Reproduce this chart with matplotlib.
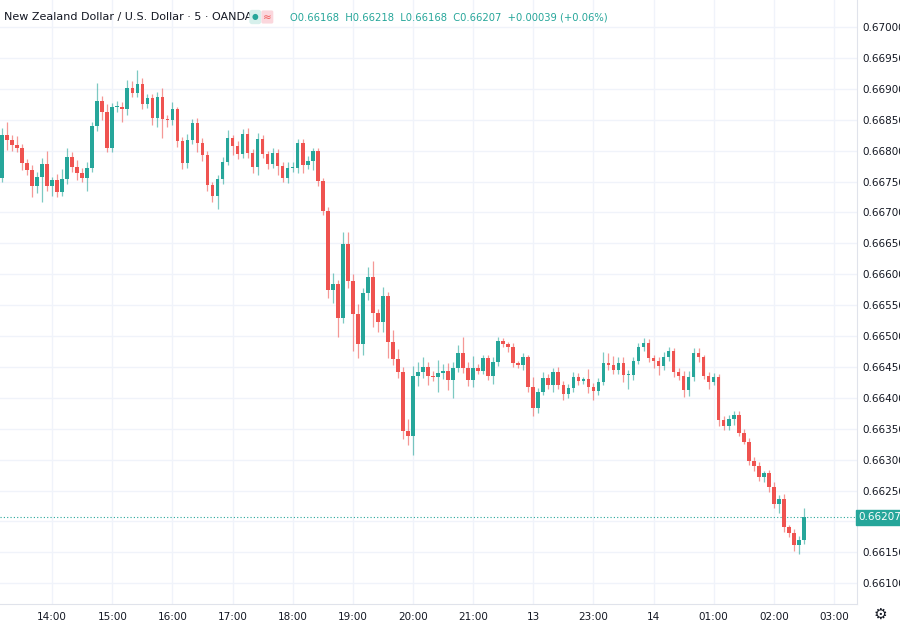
import matplotlib
matplotlib.use("Agg")
import matplotlib.pyplot as plt
from matplotlib.patches import Rectangle

opens0 = 0.66755
closes = [0.66825,0.66817,0.66809,0.66805,0.66780,0.66768,0.66743,0.66757,0.66778,0.66743,
0.66752,0.66733,0.66754,0.66790,0.66773,0.66764,0.66756,0.66772,0.66840,0.66880,
0.66862,0.66804,0.66871,0.66871,0.66867,0.66901,0.66893,0.66908,0.66875,0.66885,
0.66853,0.66887,0.66851,0.66849,0.66867,0.66816,0.66780,0.66817,0.66845,0.66812,
0.66793,0.66744,0.66727,0.66754,0.66782,0.66820,0.66807,0.66794,0.66827,0.66796,
0.66774,0.66819,0.66794,0.66778,0.66796,0.66775,0.66756,0.66772,0.66772,0.66812,
0.66777,0.66783,0.66799,0.66751,0.66702,0.66574,0.66584,0.66529,0.66649,0.66589,
0.66536,0.66487,0.66570,0.66596,0.66537,0.66523,0.66565,0.66490,0.66463,0.66442,
0.66346,0.66338,0.66435,0.66442,0.66450,0.66435,0.66433,0.66440,0.66443,0.66429,
0.66448,0.66473,0.66448,0.66429,0.66448,0.66444,0.66464,0.66435,0.66458,0.66492,
0.66487,0.66482,0.66456,0.66453,0.66466,0.66418,0.66384,0.66410,0.66432,0.66421,
0.66442,0.66421,0.66406,0.66416,0.66434,0.66427,0.66430,0.66418,0.66411,0.66426,
0.66456,0.66453,0.66445,0.66456,0.66437,0.66437,0.66460,0.66482,0.66489,0.66464,
0.66460,0.66451,0.66466,0.66476,0.66442,0.66435,0.66413,0.66434,0.66473,0.66466,
0.66435,0.66426,0.66434,0.66364,0.66354,0.66366,0.66372,0.66343,0.66329,0.66298,
0.66290,0.66272,0.66278,0.66256,0.66228,0.66236,0.66191,0.66181,0.66162,0.66170,
0.66207]
# wick lengths in 1e-5 units
upper = [12,22,8,15,6,6,8,8,10,22,6,10,16,14,8,12,8,10,6,30,
8,14,6,10,8,14,12,22,10,6,6,8,14,6,12,4,6,10,6,8,
8,6,6,6,8,14,6,8,8,10,6,10,6,6,8,6,6,10,10,6,
6,8,6,6,4,6,18,6,20,20,12,16,8,16,26,6,14,6,20,16,
8,20,16,16,16,8,8,22,12,14,10,12,26,10,20,6,6,6,8,6,
4,4,6,4,6,4,16,6,10,6,6,8,6,6,8,6,4,16,6,6,
18,16,14,10,10,8,6,6,8,6,6,6,8,6,4,6,8,10,8,8,
4,6,6,4,6,6,6,6,6,6,6,6,4,6,8,6,8,4,6,6,
14]
lower = [6,16,10,8,12,8,18,12,40,8,16,8,6,8,8,12,6,22,6,8,
12,6,6,8,20,10,6,6,8,6,12,14,30,10,8,10,10,8,6,14,
10,10,10,22,8,6,14,8,6,8,10,14,6,8,6,14,6,8,6,8,
14,6,14,8,6,12,20,30,8,12,60,22,18,12,22,16,16,26,10,10,
12,14,30,16,10,14,6,24,10,16,30,6,8,10,12,6,6,6,12,6,
4,8,6,4,8,8,14,8,6,6,12,6,10,6,6,6,4,10,14,6,
6,8,6,6,12,22,8,6,6,6,12,14,6,6,8,6,12,10,6,8,
4,12,6,10,6,6,10,4,4,6,8,6,8,8,6,14,8,6,10,14,
6]
time_labels = ["14:00","15:00","16:00","17:00","18:00","19:00","20:00","21:00",
               "13","23:00","14","01:00","02:00","03:00"]
price_ticks = [0.66100 + 0.0005*k for k in range(19)]

UP = "#26a69a"; DN = "#ef5350"
fig = plt.figure(figsize=(9, 6.23), dpi=100)
ax = fig.add_axes([0, 1-604/623, 857/900, 604/623])
n = len(closes)
opens = [opens0] + closes[:-1]
for i in range(n):
    o, c = opens[i], closes[i]
    col = UP if c >= o else DN
    hi = max(o, c) + upper[i]*1e-5
    lo = min(o, c) - lower[i]*1e-5
    ax.vlines(i, lo, hi, color=col, lw=0.9, alpha=0.6, zorder=2)
    h = abs(c-o)
    if h < 1.5e-5:
        h = 1.5e-5
    ax.add_patch(Rectangle((i-0.36, min(o, c)), 0.72, h, color=col, lw=0, zorder=3))

ax.set_xlim(-0.4, 170.6)
ax.set_ylim(0.660664, 0.670437)
ax.set_xticks([10+12*k for k in range(len(time_labels))])
ax.set_xticklabels(time_labels)
ax.set_yticks(price_ticks)
ax.set_yticklabels([f"{p:.5f}" for p in price_ticks])
ax.yaxis.tick_right()
ax.tick_params(axis="both", length=0, labelsize=7.5, colors="#131722", pad=6)
ax.tick_params(axis="y", pad=4)
ax.grid(True, color="#f0f3fa", lw=1, zorder=0)
ax.set_axisbelow(True)
for s in ["top", "left"]:
    ax.spines[s].set_visible(False)
for s in ["right", "bottom"]:
    ax.spines[s].set_color("#e0e3eb")

last = closes[-1]
ax.axhline(last, color=UP, ls=(0, (1, 2)), lw=0.8, zorder=1)
ax.text(1.0015, last, f"{last:.5f}", transform=ax.get_yaxis_transform(), va="center", ha="left",
        fontsize=7.5, color="white", bbox=dict(boxstyle="square,pad=0.25", fc=UP, ec=UP))

fig.text(4/900, 1-17/623, "New Zealand Dollar / U.S. Dollar · 5 · OANDA", fontsize=8,
         color="#131722", va="center")
fig.text(290/900, 1-17/623, "O0.66168  H0.66218  L0.66168  C0.66207  +0.00039 (+0.06%)",
         fontsize=7.2, color=UP, va="center")
fig.text(252/900, 1-17/623, "●", fontsize=5.5, color=UP, va="center",
         bbox=dict(boxstyle="round,pad=0.35", fc="#d7f0ec", ec="none"))
fig.text(263/900, 1-17/623, "≈", fontsize=7.5, color="#ef5350", va="center",
         bbox=dict(boxstyle="round,pad=0.15", fc="#fbd7dd", ec="none"))
fig.text(880/900, 1-614/623, "⚙", fontsize=11, color="#131722", ha="center", va="center")
fig.savefig("out.png", dpi=100, facecolor="white")
